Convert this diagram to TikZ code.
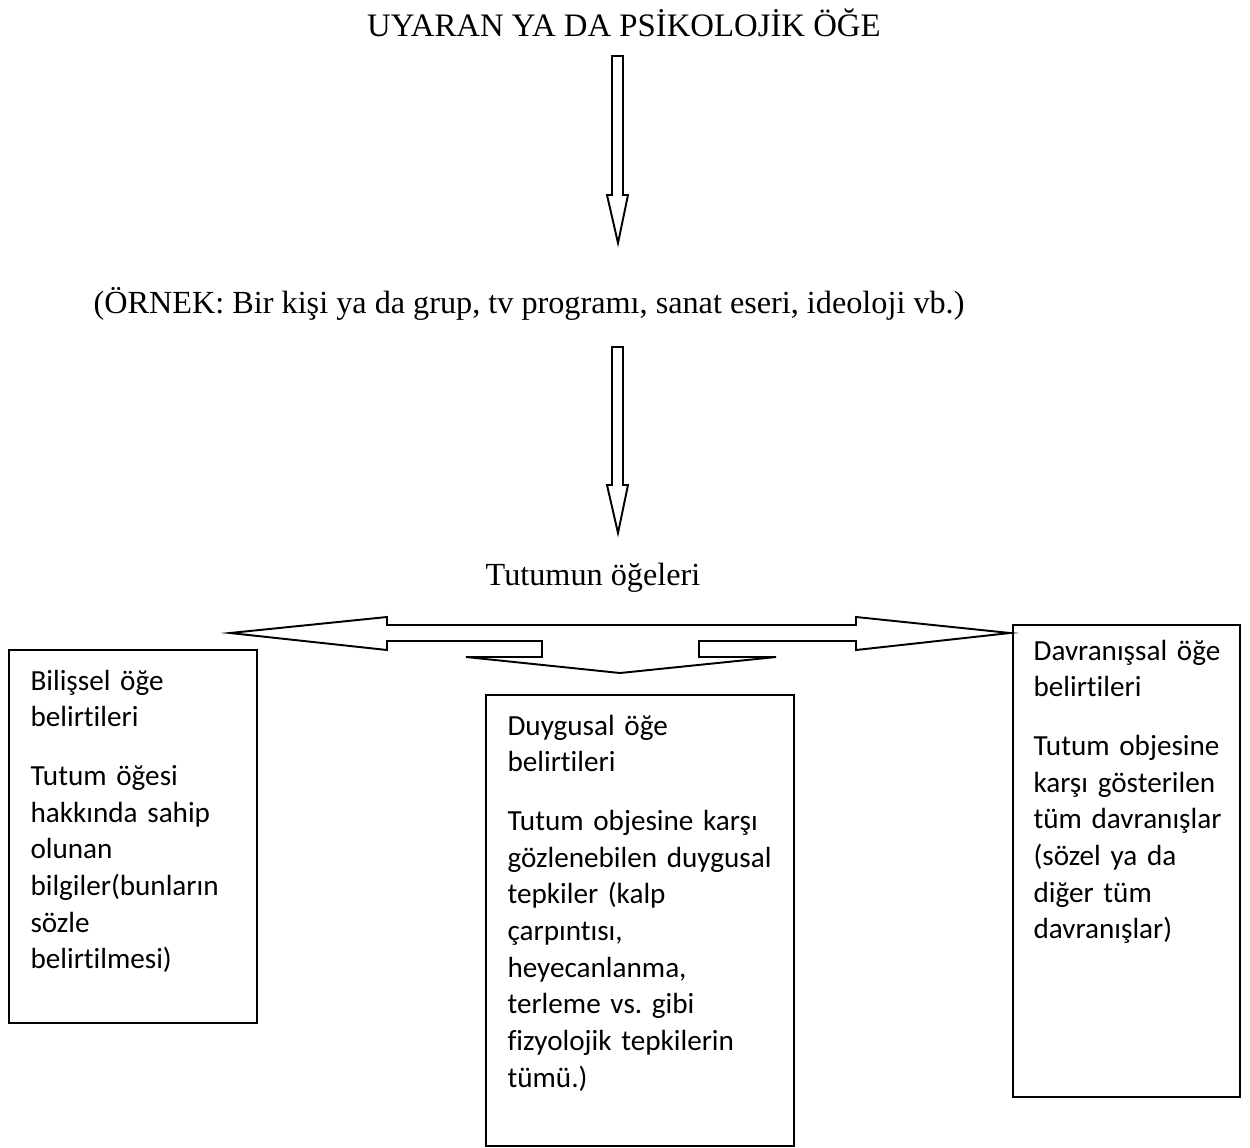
\documentclass[tikz,border=0pt]{standalone}
\usepackage{fontspec}
\setmainfont{Liberation Serif}
\newfontfamily\calibri[Ligatures=NoCommon]{Carlito}
\usetikzlibrary{positioning}
\frenchspacing
\newcommand{\px}{0.36pt}
\tikzset{
    heading/.style={
        inner sep=0pt,
        font=\fontsize{11.6}{14}\selectfont
    },
    box/.style={
        draw,
        line width=0.7pt,
        inner sep=0pt,
        outer sep=0pt,
        anchor=north west
    },
    boxtext/.style={
        inner sep=0pt,
        anchor=base west,
        align=left,
        text width=230*\px,
        font=\calibri\fontsize{10.5}{13.2}\selectfont
    },
    blockarrow/.style={
        draw,
        line width=0.7pt,
        line join=miter,
        fill=white
    }
}

\begin{document}
\begin{tikzpicture}[x=0.36pt,y=-0.36pt]
        \useasboundingbox (0,0) rectangle (1250,1147);
        % texts
        \node[heading,anchor=base,font=\fontsize{11.8}{14}\selectfont] (stimulus) at (624,36)
            {UYARAN YA DA PSİKOLOJİK ÖĞE};
        \node[heading,anchor=base east] (example) at (965,313)
            {(ÖRNEK: Bir kişi ya da grup, tv programı, sanat eseri, ideoloji vb.)};
        \node[heading,anchor=base] (elements) at (593,585) {Tutumun öğeleri};
        % draw down arrows
        \coordinate (a1) at (612,56);
        \coordinate (a2) at (612,347);
        \foreach \a/\h in {a1/139,a2/138}
            \draw[blockarrow] (\a) -- ++(11,0) -- ++(0,\h) -- ++(5,0)
                -- ++(-10,48) -- ++(-11,-48) -- ++(5,0) -- cycle;
        % draw three way arrow
        \coordinate (split) at (620,673);
        \draw[blockarrow] (387,625) -- (856,625) -- (856,617) -- (1010,633)
            -- (856,650) -- (856,641) -- (699,641) -- (699,657) -- (776,657)
            -- (split) -- (466,657) -- (542,657) -- (542,641) -- (387,641)
            -- (387,650) -- (230,633) -- (387,617) -- cycle;
        % draw boxes
        \node[box,minimum width=248*\px,minimum height=373*\px] (cognitive) at (9,650) {};
        \node[box,minimum width=308*\px,minimum height=451*\px] (affective) at (486,695) {};
        \node[box,minimum width=227*\px,minimum height=472*\px] (behavioral) at (1013,625) {};
        \node[boxtext] (cognitivetext) at (30,690)
            {Bilişsel öğe\\belirtileri\\[8pt]
             Tutum öğesi\\hakkında sahip\\olunan\\bilgiler(bunların\\sözle\\belirtilmesi)};
        \node[boxtext,text width=290*\px] (affectivetext) at (507,735)
            {Duygusal öğe\\belirtileri\\[8pt]
             Tutum objesine karşı\\gözlenebilen duygusal\\tepkiler (kalp\\çarpıntısı,\\heyecanlanma,\\terleme vs. gibi\\fizyolojik tepkilerin\\tümü.)};
        \node[boxtext,text width=210*\px] (behavioraltext) at (1033,660)
            {Davranışsal öğe\\belirtileri\\[8pt]
             Tutum objesine\\karşı gösterilen\\tüm davranışlar\\(sözel ya da\\diğer tüm\\davranışlar)};
\end{tikzpicture}
\end{document}
